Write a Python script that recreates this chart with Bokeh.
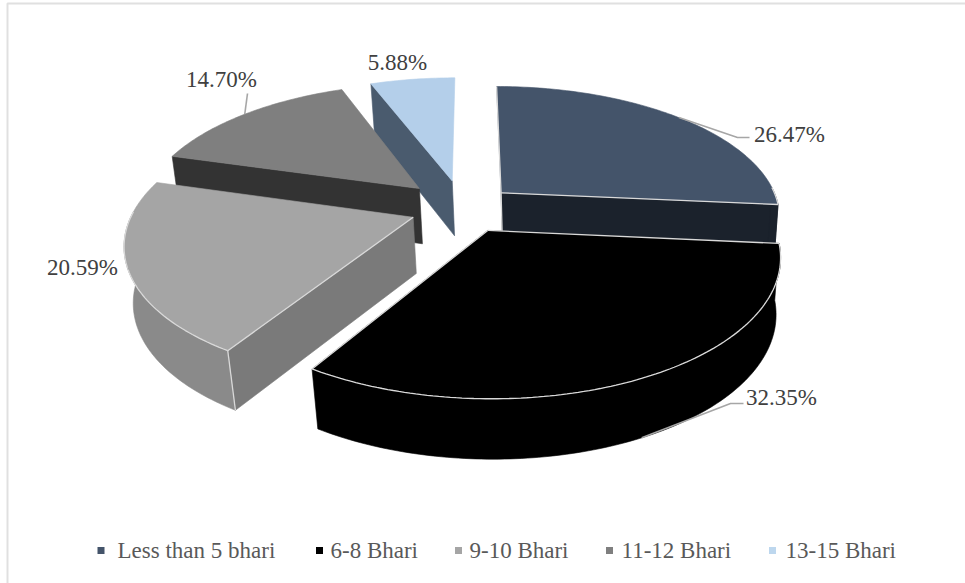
import math

from bokeh.core.properties import value
from bokeh.embed import file_html
from bokeh.models import Range1d
from bokeh.plotting import figure
from bokeh.resources import INLINE

# Shares of respondents by gold holding
categories = ["Less than 5 bhari", "6-8 Bhari", "9-10 Bhari", "11-12 Bhari", "13-15 Bhari"]
shares = [26.47, 32.35, 20.59, 14.70, 5.88]
labels = ["26.47%", "32.35%", "20.59%", "14.70%", "5.88%"]

# Colours per slice: top face, radial walls, rim wall
top_colors = ["#44546A", "#000000", "#A5A5A5", "#7F7F7F", "#B4CFEA"]
wall_colors = ["#1B222C", "#000000", "#7A7A7A", "#333333", "#4A5B6E"]
rim_colors = ["#1B222C", "#000000", "#8A8A8A", "#5F5F5F", "#8FA6BE"]
swatch_colors = ["#44546A", "#000000", "#A5A5A5", "#7F7F7F", "#BDD7EE"]
edge_color = "#D9D9D9"

# Perspective projection of the pie's ground plane
ORIGIN_X, ORIGIN_Y = 470, 205
SCALE_X, SCALE_Y = 278, 129
FORESHORTEN = 0.175
THICKNESS = 58
BASE_RECESS_X = 0.02
BASE_RECESS_Y = 0.04
BASE_SHIFT_X = 2
# Explosion of each slice on the ground plane (right, away from viewer)
explode = [(0.112, 0.100), (0.060, -0.187), (-0.203, -0.090), (-0.188, 0.134), (-0.068, 0.197)]
# Painter's order, far slices first
draw_order = [4, 3, 2, 0, 1]


def project(x, y, drop=False):
    w = 1 + FORESHORTEN * y
    if not drop:
        return ORIGIN_X + SCALE_X * x / w, ORIGIN_Y - SCALE_Y * y / w
    wx, wy = w + BASE_RECESS_X, w + BASE_RECESS_Y
    return (ORIGIN_X + BASE_SHIFT_X + SCALE_X * x / wx,
            ORIGIN_Y - SCALE_Y * y / wy + THICKNESS / wy)


def ground(i, angle):
    ex, ey = explode[i]
    return ex + math.sin(angle), ey + math.cos(angle)


def arc_angles(a0, a1):
    n = max(4, int((a1 - a0) * 60))
    return [a0 + (a1 - a0) * k / n for k in range(n + 1)]


def signed_area(pts):
    return sum(pts[k][0] * pts[(k + 1) % len(pts)][1] - pts[(k + 1) % len(pts)][0] * pts[k][1]
               for k in range(len(pts)))


total = sum(shares)
bounds = [0.0]
for s in shares:
    bounds.append(bounds[-1] + 2 * math.pi * s / total)

p = figure(width=965, height=583, output_backend="svg", toolbar_location=None,
           x_range=Range1d(0, 965), y_range=Range1d(583, 0),
           min_border=0, outline_line_color=None, background_fill_color="white",
           border_fill_color="white")
p.axis.visible = False
p.grid.visible = False

# Chart frame: only its top and left sides fall inside the page
p.line([7, 7, 965], [583, 3, 3], line_color="#E0E0E0", line_width=2)


def face(points, color):
    p.patch([q[0] for q in points], [q[1] for q in points],
            fill_color=color, line_color=color, line_width=0.6)


def seam(points):
    p.line([q[0] for q in points], [q[1] for q in points], line_color=edge_color, line_width=1.3)


for i in draw_order:
    a0, a1 = bounds[i], bounds[i + 1]
    apex = tuple(explode[i])
    ends = [ground(i, a0), ground(i, a1)]

    # Radial walls that turn towards the viewer
    for sign, corner in ((-1, ends[0]), (1, ends[1])):
        pts = [project(*apex), project(*corner), project(*corner, drop=True), project(*apex, drop=True)]
        if sign * signed_area(pts) > 1000:
            face(pts, wall_colors[i])

    # Rim wall, only the part that faces the viewer
    ring_angles = arc_angles(a0, a1)
    near = [a for a in ring_angles if math.cos(a) < 0.05]
    near_top = [project(*ground(i, a)) for a in near]
    if len(near) > 1:
        near_low = [project(*ground(i, a), drop=True) for a in near]
        face(near_top + near_low[::-1], rim_colors[i])

    # Top face
    upper = [project(*ground(i, a)) for a in ring_angles]
    face([project(*apex)] + upper, top_colors[i])

    # Pale seams where the top face meets a visible wall
    for g in ends:
        if g[1] < apex[1] + 0.2:
            seam([project(*apex), project(*g)])
    if len(near) > 1:
        seam(near_top)
    if i == 2:
        # Nearest corner of the third slice
        seam([project(*ends[0]), project(*ends[0], drop=True)])
    if i == 0:
        # Inner corner of the first slice
        seam([project(*ends[0]), project(*apex), project(*apex, drop=True)])

# Data labels with their leader lines, anchored on each slice's rim
label_pos = [(789, 134), (781, 397), (82, 267), (221, 79), (397, 62)]
leader_elbow = [(737, 137), (730, 403), (131, 268), (247, 93), None]
leader_end = [(749, 137), (743, 403), (131, 268), (247, 93), None]
leader_drop = [False, True, False, False, False]
for i, text in enumerate(labels):
    mid = (bounds[i] + bounds[i + 1]) / 2
    if leader_elbow[i] is not None:
        q = project(*ground(i, mid), drop=leader_drop[i])
        p.line([q[0], leader_elbow[i][0], leader_end[i][0]],
               [q[1], leader_elbow[i][1], leader_end[i][1]],
               line_color="#A6A6A6", line_width=1.6)
    p.text([label_pos[i][0]], [label_pos[i][1]], text=[text], text_align="center",
           text_baseline="middle", text_color="#404040",
           text_font=value("Liberation Serif"), text_font_size="23px")

# Legend along the bottom
legend_swatch_x = [100.5, 319, 458, 609, 772]
legend_text_x = [117, 330, 469, 621, 785]
legend_y = 550
p.scatter(legend_swatch_x, [legend_y] * 5, marker="square", size=7,
          fill_color=swatch_colors, line_color=None)
p.text(legend_text_x, [legend_y] * 5, text=categories, text_align="left",
       text_baseline="middle", text_color="#595959",
       text_font=value("Liberation Serif"), text_font_size="23px")

open("out.html", "w").write(file_html(p, INLINE))
